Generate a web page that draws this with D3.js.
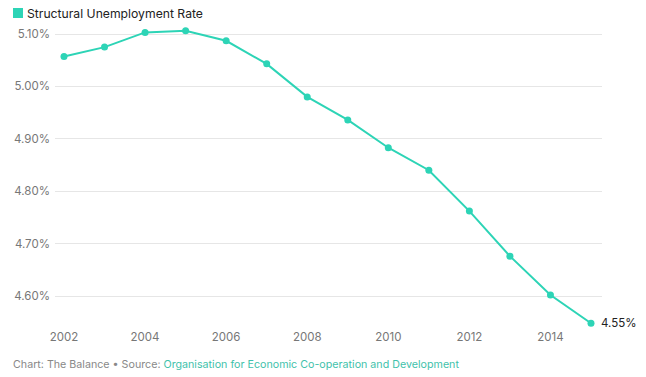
<!DOCTYPE html>
<html><head><meta charset="utf-8">
<script src="https://cdn.jsdelivr.net/npm/d3@7"></script>
<style>
body{margin:0;background:#fff;font-family:Inter,"Noto Sans",sans-serif;}
</style></head>
<body><svg id="c" width="646" height="377"></svg>
<script>
const years = [2002,2003,2004,2005,2006,2007,2008,2009,2010,2011,2012,2013,2014,2015];
const rates = [5.057,5.075,5.103,5.106,5.087,5.043,4.980,4.936,4.883,4.840,4.762,4.676,4.602,4.548];
const yTicks = [4.6,4.7,4.8,4.9,5.0,5.1];
const xTicks = [2002,2004,2006,2008,2010,2012,2014];
const seriesName = "Structural Unemployment Rate";
const color = "#2dd4b6";

const svg = d3.select("#c");
const x = d3.scaleLinear().domain([2002,2015]).range([64,591]);
const y = d3.scaleLinear().domain([4.6,5.1]).range([296,34]);

svg.append("g").selectAll("line").data(yTicks).join("line")
  .attr("x1",55).attr("x2",602).attr("y1",d=>y(d)).attr("y2",d=>y(d))
  .attr("stroke","#e6e6e6").attr("stroke-width",1).attr("shape-rendering","crispEdges");
svg.append("g").selectAll("text").data(yTicks).join("text")
  .attr("x",50).attr("y",d=>y(d)+4).attr("text-anchor","end")
  .attr("font-size",11.5).attr("fill","#777").text(d=>d.toFixed(2)+"%");
svg.append("g").selectAll("text").data(xTicks).join("text")
  .attr("x",d=>x(d)).attr("y",341).attr("text-anchor","middle")
  .attr("font-size",11.5).attr("fill","#777").text(d=>d);

const pts = years.map((yr,i)=>[yr,rates[i]]);
svg.append("path").datum(pts)
  .attr("d",d3.line().x(d=>x(d[0])).y(d=>y(d[1])))
  .attr("fill","none").attr("stroke",color).attr("stroke-width",2);
svg.append("g").selectAll("circle").data(pts).join("circle")
  .attr("cx",d=>x(d[0])).attr("cy",d=>y(d[1])).attr("r",3.5).attr("fill",color);

const last = pts[pts.length-1];
svg.append("text").attr("x",x(last[0])+10).attr("y",y(last[1])+4)
  .attr("font-size",11.5).attr("fill","#222").text(last[1].toFixed(2)+"%");

svg.append("rect").attr("x",13).attr("y",8).attr("width",10).attr("height",10).attr("fill",color);
svg.append("text").attr("x",27).attr("y",17.5).attr("font-size",12.2).attr("fill","#222").text(seriesName);

const f = svg.append("text").attr("x",13).attr("y",368).attr("font-size",10.7);
f.append("tspan").attr("fill","#888").text("Chart: The Balance • Source: ");
f.append("tspan").attr("fill","#3fc2ab").text("Organisation for Economic Co-operation and Development");
</script></body></html>
